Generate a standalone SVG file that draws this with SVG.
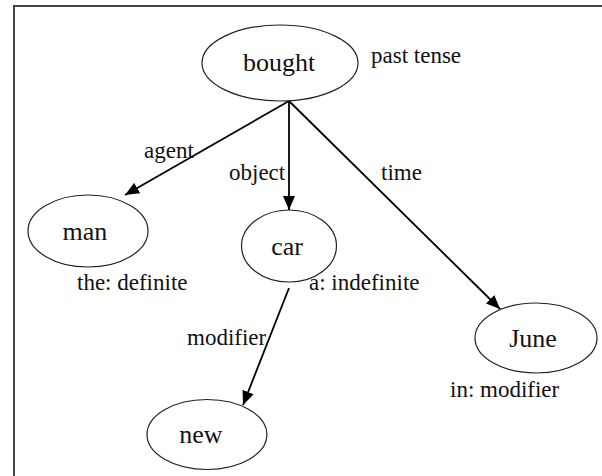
<svg xmlns="http://www.w3.org/2000/svg" width="602" height="476" viewBox="0 0 602 476">
<defs>
<marker id="arr" viewBox="0 0 14 12" refX="14" refY="6" markerWidth="14" markerHeight="12" markerUnits="userSpaceOnUse" orient="auto">
<path d="M0,0 L14,6 L0,12 Z" fill="#000"/>
</marker>
</defs>
<style>
.node ellipse{fill:#fff;stroke:#222;stroke-width:1.2}
.nt{font-family:"Liberation Serif","Times New Roman",serif;font-size:26px;fill:#111;text-anchor:middle}
.lbl{font-family:"Liberation Serif","Times New Roman",serif;font-size:23px;fill:#111}
.edge{stroke:#000;stroke-width:1.8;fill:none;marker-end:url(#arr)}
</style>
<rect x="0" y="0" width="602" height="476" fill="#fff"/>
<rect x="14" y="6" width="600" height="480" fill="none" stroke="#444" stroke-width="2"/>
<g id="connectors">
<line class="edge" x1="289" y1="101" x2="125" y2="195"/>
<line class="edge" x1="289" y1="101" x2="289" y2="210"/>
<line class="edge" x1="289" y1="101" x2="500" y2="309"/>
<line class="edge" x1="289" y1="288" x2="243" y2="405"/>
<text class="lbl" x="144" y="158">agent</text>
<text class="lbl" x="229" y="180">object</text>
<text class="lbl" x="381" y="180">time</text>
<text class="lbl" x="187" y="345">modifier</text>
</g>
<g id="bought" class="node">
<ellipse cx="280" cy="63" rx="78" ry="38"/>
<text class="nt" x="279" y="71">bought</text>
<text class="lbl" x="371" y="63">past tense</text>
</g>
<g id="man" class="node">
<ellipse cx="88" cy="231" rx="60" ry="36"/>
<text class="nt" x="85" y="240">man</text>
<text class="lbl" x="77" y="290">the: definite</text>
</g>
<g id="car" class="node">
<ellipse cx="289" cy="246" rx="47.5" ry="36"/>
<text class="nt" x="287" y="255">car</text>
<text class="lbl" x="309" y="290">a: indefinite</text>
</g>
<g id="june" class="node">
<ellipse cx="536" cy="338" rx="61" ry="35"/>
<text class="nt" x="533" y="347">June</text>
<text class="lbl" x="450" y="397">in: modifier</text>
</g>
<g id="new" class="node">
<ellipse cx="207" cy="434.5" rx="60" ry="35"/>
<text class="nt" x="201" y="443">new</text>
</g>
</svg>
